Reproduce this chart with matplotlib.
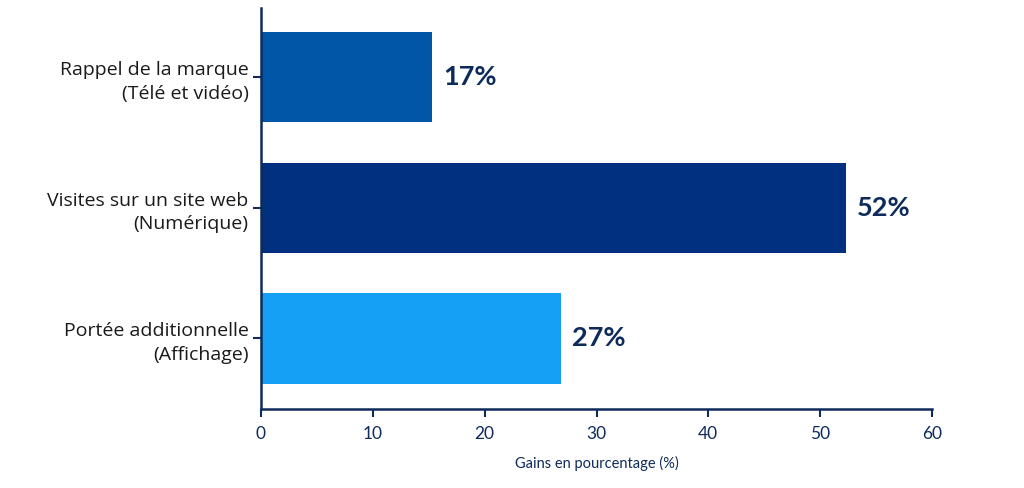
import matplotlib
matplotlib.use("Agg")
import matplotlib.pyplot as plt

categories = ["Rappel de la marque\n(Télé et vidéo)",
              "Visites sur un site web\n(Numérique)",
              "Portée additionnelle\n(Affichage)"]
values = [15.3, 52.3, 26.8]
value_labels = ["17%", "52%", "27%"]
colors = ["#0057A8", "#00307F", "#16A0F5"]
xticks = [0, 10, 20, 30, 40, 50, 60]
xlabel = "Gains en pourcentage (%)"

navy = "#0F2B5B"
plt.rcParams['font.family'] = ['Lato', 'DejaVu Sans']

fig = plt.figure(figsize=(10.24, 4.88), dpi=100)
ax = fig.add_axes([261/1024, 1 - 409/488, (932 - 261)/1024, (409 - 8)/488])

pos = list(range(len(categories)))
bars = ax.barh(pos, values, height=0.69, color=colors)
for b, lab in zip(bars, value_labels):
    ax.annotate(lab, (b.get_width(), b.get_y() + b.get_height()/2),
                xytext=(11, 0), textcoords="offset pixels",
                va="center", ha="left", fontsize=19.5, fontweight="bold", color=navy)

ax.set_ylim(2.54, -0.53)
ax.set_xlim(0, 60)
ax.set_xticks(xticks)
ax.set_yticks(pos)
ax.set_yticklabels(categories, fontsize=14, color="#1a1a1a", ha="right",
                   family=['Open Sans', 'DejaVu Sans'], linespacing=1.4)
ax.tick_params(axis="x", labelsize=12.5, labelcolor=navy, color=navy, length=6, width=1.5, pad=6)
ax.tick_params(axis="y", color=navy, length=6, width=1.5, pad=3)
for lab in ax.get_yticklabels():
    lab.set_multialignment("right")
ax.set_xlabel(xlabel, fontsize=10.5, color=navy, labelpad=10)

for s in ["top", "right"]:
    ax.spines[s].set_visible(False)
for s in ["left", "bottom"]:
    ax.spines[s].set_color(navy)
    ax.spines[s].set_linewidth(1.8)

fig.savefig("out.png", dpi=100)
